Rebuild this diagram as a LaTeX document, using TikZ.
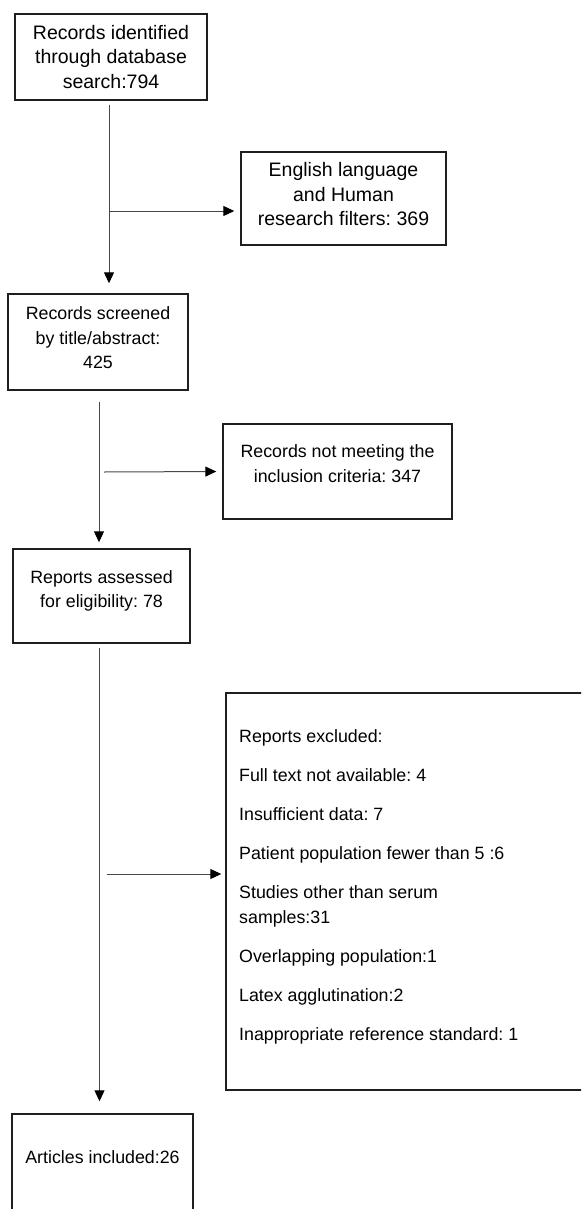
\documentclass[tikz,border=0pt]{standalone}
\usepackage{fontspec}
\setmainfont{Liberation Sans}
\usetikzlibrary{arrows.meta}
\frenchspacing
\begin{document}
\begin{tikzpicture}[x=1pt,y=-1pt,
  box/.style={draw=black!88,line width=1.4pt,rectangle,inner sep=0pt},
  txtA/.style={inner sep=0pt,align=center,anchor=north,font=\frenchspacing\fontsize{19.5}{24.5}\selectfont},
  txtB/.style={inner sep=0pt,align=center,anchor=north,font=\frenchspacing\fontsize{17.8}{24.5}\selectfont},
  txtL/.style={inner sep=0pt,align=left,anchor=north west,font=\frenchspacing\fontsize{17.8}{25}\selectfont},
  conn/.style={draw=black!72,line width=1pt,-{Triangle[length=11pt,width=10pt,color=black]}}]
\useasboundingbox (0,0) rectangle (581,1209);
\clip (0,0) rectangle (581,1209);
% boxes
\node[box,minimum width=192pt,minimum height=86pt] (n1) at (111,57) {};
\node[box,minimum width=205pt,minimum height=93pt] (n2) at (343.5,198.5) {};
\node[box,minimum width=180pt,minimum height=96pt] (n3) at (98,342) {};
\node[box,minimum width=229pt,minimum height=95pt] (n4) at (337.5,471.5) {};
\node[box,minimum width=177pt,minimum height=94pt] (n5) at (101.5,596) {};
\node[box,minimum width=374pt,minimum height=397pt] (n6) at (413,891.5) {};
\node[box,minimum width=181pt,minimum height=116pt] (n7) at (102.5,1172) {};
% texts
\node[txtA] (t1) at (111,25.1) {Records identified\\through database\\search:794};
\node[txtA] (t2) at (343.5,162.5) {English language\\and Human\\research filters: 369};
\node[txtB] (t3) at (98,306.4) {Records screened\\by title/abstract:\\425};
\node[txtB] (t4) at (337.5,444.4) {Records not meeting the\\inclusion criteria: 347};
\node[txtB] (t5) at (101.5,570) {Reports assessed\\for eligibility: 78};
\node[txtL] (t6) at (239,729.1) {Reports excluded:\\[14pt]
Full text not available: 4\\[14pt]
Insufficient data: 7\\[14pt]
Patient population fewer than 5 :6\\[14pt]
Studies other than serum\\
samples:31\\[14pt]
Overlapping population:1\\[14pt]
Latex agglutination:2\\[14pt]
Inappropriate reference standard: 1};
\node[txtB] (t7) at (102.5,1150) {Articles included:26};
% branch points
\coordinate (b1) at (109,211);
\coordinate (b2) at (104,472);
\coordinate (b3) at (107,874);
% connectors
\draw[conn,shorten <=4pt,shorten >=10pt] ([xshift=-2pt]n1.south) -- ([xshift=-2pt]n1.south |- n3.north);
\draw[conn,shorten >=6pt] (b1) -- (b1 -| n2.west);
\draw[conn,shorten <=11pt,shorten >=6pt] ([xshift=1pt]n3.south) -- ([xshift=1pt]n3.south |- n5.north);
\draw[conn,shorten >=6pt] (b2) -- (n4.west);
\draw[conn,shorten <=4pt,shorten >=12pt] ([xshift=-2pt]n5.south) -- ([xshift=-2pt]n5.south |- n7.north);
\draw[conn,shorten >=4pt] (b3) -- (b3 -| n6.west);
\end{tikzpicture}
\end{document}
